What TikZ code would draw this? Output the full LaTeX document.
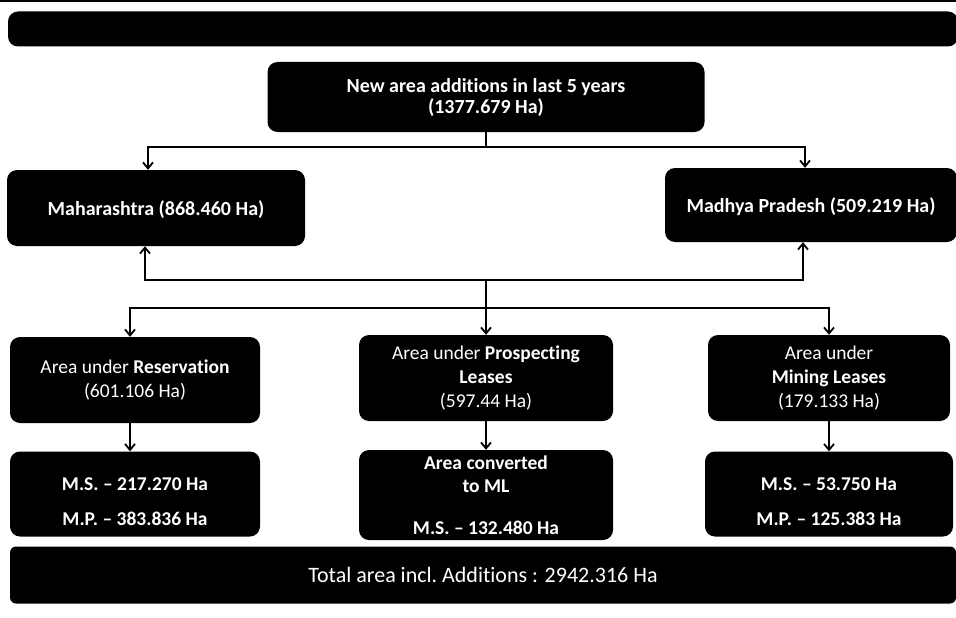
\documentclass[tikz,border=0pt]{standalone}
\usepackage{fontspec}
\setmainfont{Carlito}[Ligatures=NoCommon]
\usetikzlibrary{positioning,arrows.meta}

\tikzset{
  box/.style={rectangle, rounded corners=10pt, fill=black, text=white, align=center,
    font=\fontsize{19.5}{24}\selectfont, inner sep=2pt},
  conn/.style={line width=1.8pt, >={Straight Barb[length=6pt,width=10pt]}},
}

\begin{document}
\begin{tikzpicture}[x=1pt,y=-1pt]
  \useasboundingbox (0,0) rectangle (956,618);

  % header band
  \draw[line width=2.5pt] (0,1) -- (956,1);
  \node[box, minimum width=950pt, minimum height=35pt] (banner) at (483,29) {};

  % top level
  \node[box, font=\bfseries\fontsize{20}{21}\selectfont, minimum width=437pt, minimum height=70pt] (add) at (486,97)
    {New area additions in last 5 years\\(1377.679 Ha)};
  \node[box, font=\bfseries\fontsize{20}{22}\selectfont, minimum width=298pt, minimum height=76pt] (ms) at (156,208)
    {\rule{0pt}{19pt}Maharashtra (868.460 Ha)};
  \node[box, font=\bfseries\fontsize{20}{22}\selectfont, minimum width=292pt, minimum height=74pt] (mp) at (811,205)
    {\rule{0pt}{19pt}Madhya Pradesh (509.219 Ha)};

  % categories
  \node[box, minimum width=250pt, minimum height=86pt] (res) at (135,380)
    {Area under \textbf{Reservation}\\(601.106 Ha)};
  \node[box, minimum width=254pt, minimum height=86pt] (pros) at (486,378)
    {Area under \textbf{Prospecting}\\\textbf{Leases}\\(597.44 Ha)};
  \node[box, minimum width=242pt, minimum height=86pt] (mine) at (829,378)
    {Area under\\\textbf{Mining Leases}\\(179.133 Ha)};

  % break-up
  \node[box, font=\bfseries\fontsize{19.5}{23}\selectfont, minimum width=250pt, minimum height=85pt] (resbr) at (135,494)
    {\rule{0pt}{28pt}M.S. -- 217.270 Ha\\[12pt]M.P. -- 383.836 Ha};
  \node[box, font=\bfseries\fontsize{19.5}{23}\selectfont, minimum width=254pt, minimum height=90pt] (prosbr) at (486,495)
    {Area converted\\to ML\\[19pt]M.S. -- 132.480 Ha};
  \node[box, font=\bfseries\fontsize{19.5}{23}\selectfont, minimum width=248pt, minimum height=85pt] (minebr) at (829,494)
    {\rule{0pt}{28pt}M.S. -- 53.750 Ha\\[12pt]M.P. -- 125.383 Ha};

  \node[box, font=\fontsize{22}{24}\selectfont, rounded corners=6pt, minimum width=946pt, minimum height=57pt] (total) at (483,575)
    {Total area incl.\ Additions : 2942.316 Ha};

  % junctions
  \coordinate (j1) at (486,147);
  \coordinate (j2) at (486,280);
  \coordinate (j3) at (486,308);

  \draw[conn] (add.south) -- (j1);
  \draw[conn,->] (j1) -| ([xshift=-8pt]ms.north);
  \draw[conn,->] (j1) -| ([xshift=-6pt]mp.north);
  \draw[conn,<->] ([xshift=-11pt]ms.south) |- (j2) -| ([xshift=-8pt]mp.south);
  \draw[conn] (j2) -- (j3);
  \draw[conn,->] (j3) -| ([xshift=-5pt]res.north);
  \draw[conn,->] (j3) -- (pros.north);
  \draw[conn,->] (j3) -| (mine.north);

  \draw[conn,->] ([xshift=-5pt]res.south) -- ([xshift=-5pt]resbr.north);
  \draw[conn,->] (pros) -- (prosbr);
  \draw[conn,->] (mine) -- (minebr);
\end{tikzpicture}
\end{document}
